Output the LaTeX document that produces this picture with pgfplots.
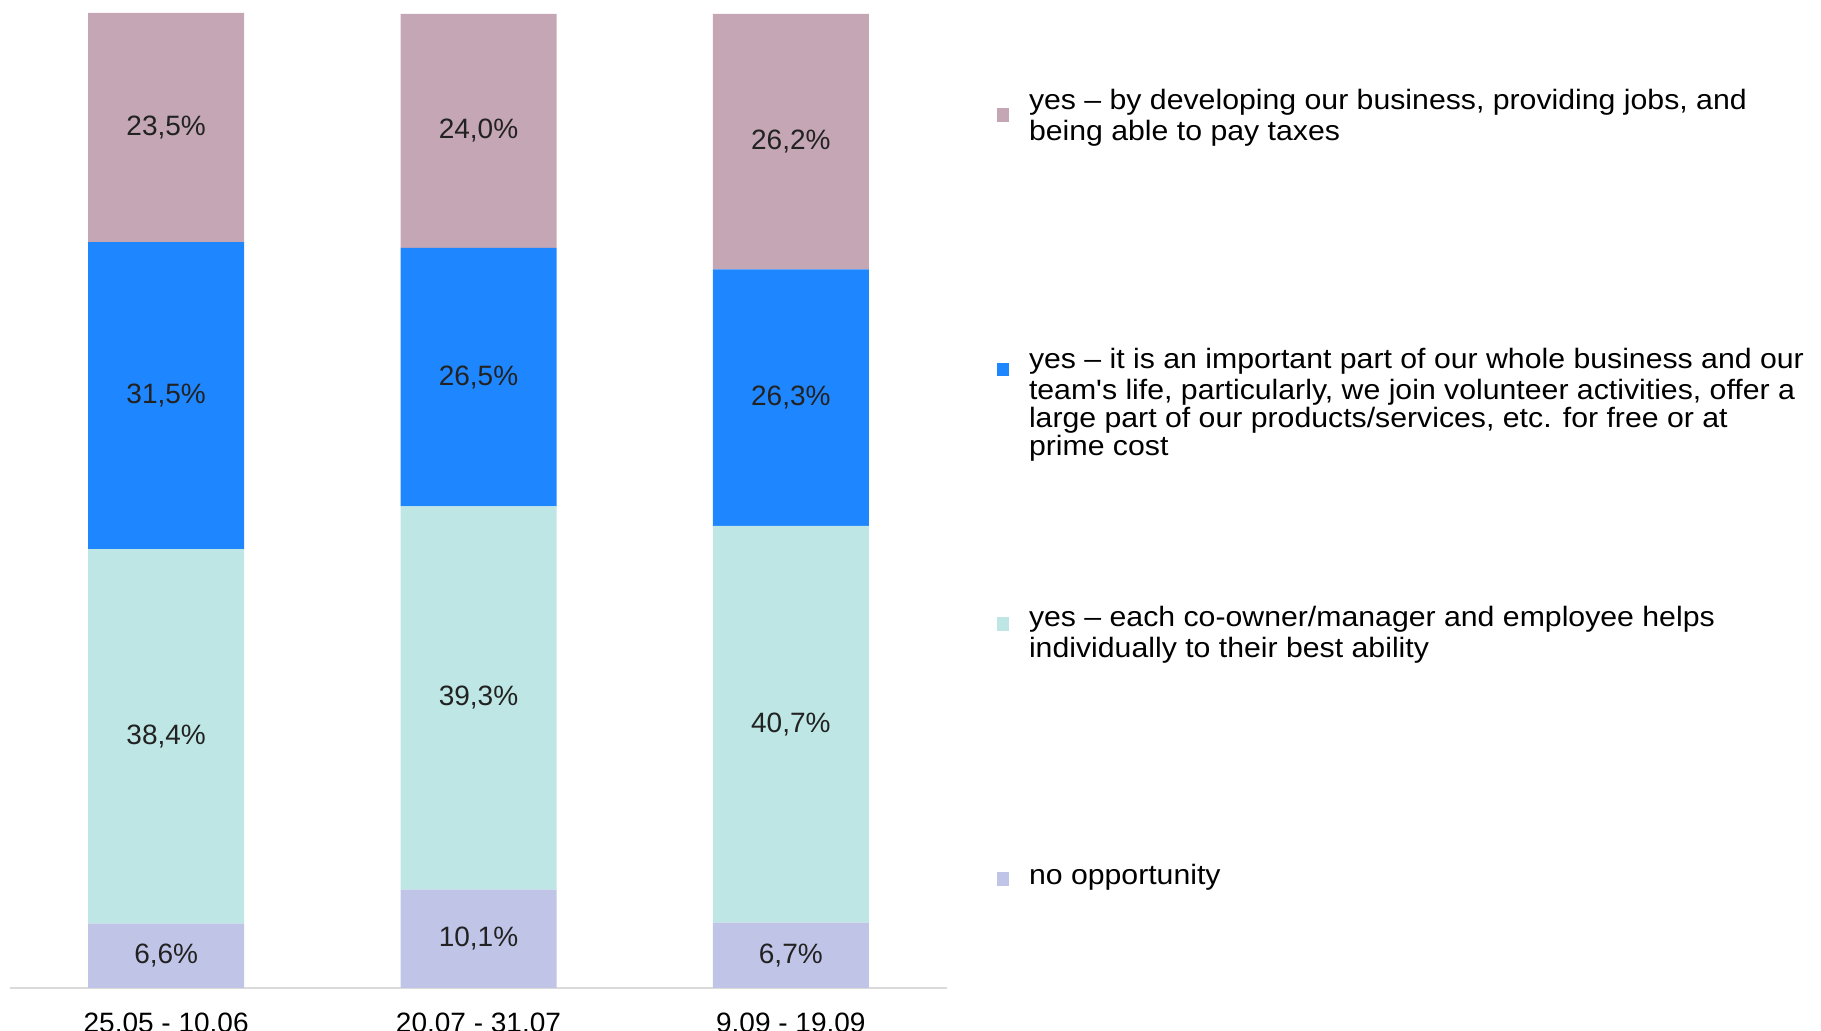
\documentclass[border=0pt]{standalone}
\usepackage{fontspec}
\setmainfont{Liberation Sans}
\newfontfamily\legendfont{Liberation Sans}[FakeStretch=1.08]
\usepackage{pgfplots}
\pgfplotsset{compat=1.18}
\definecolor{cpink}{HTML}{C4A6B4}
\definecolor{cblue}{HTML}{1E86FF}
\definecolor{cteal}{HTML}{BDE6E4}
\definecolor{clav}{HTML}{C0C5E8}
\definecolor{axisgray}{HTML}{DADADA}
\definecolor{labtext}{HTML}{222222}
\newcommand{\entry}[1]{\raisebox{0pt}[9.9pt][6pt]{\parbox[t]{460pt}{\legendfont\raggedright\strut #1}}}
\begin{document}
\fontsize{14}{14.15}\selectfont
\begin{tikzpicture}
\begin{axis}[
  scale only axis,
  width=468.5pt, height=487.5pt,
  xmin=-0.5, xmax=2.5, ymin=0, ymax=100,
  ybar stacked, bar width=78pt,
  axis x line*=bottom, axis y line=none,
  x axis line style={draw=axisgray, line width=1pt},
  xtick={0,1,2},
  xticklabels={25.05 - 10.06, 20.07 - 31.07, 9.09 - 19.09},
  major tick length=0pt,
  ytick=\empty,
  xticklabel style={inner sep=0pt, yshift=-12.5pt, text=black},
  reverse legend,
  legend style={draw=none, fill=none, inner sep=0pt, outer sep=0pt,
    row sep=113.25pt, column sep=10pt,
    nodes={anchor=base west, inner sep=0pt, outer sep=0pt, text=black},
    at={(1.05336,0.92082)}, anchor=north west},
]
\addplot[fill=clav, draw=none,
  legend image code/.code={\path[fill=none,draw=none] (0pt,-6pt) rectangle (6pt,9.9pt);
    \fill[clav] (0pt,-0.35pt) rectangle (6pt,6.45pt);}]
  coordinates {(0,6.6) (1,10.1) (2,6.7)};
\addlegendentry{\entry{no opportunity}}
\addplot[fill=cteal, draw=none,
  legend image code/.code={\path[fill=none,draw=none] (0pt,-6pt) rectangle (6pt,9.9pt);
    \fill[cteal] (0pt,-2.2pt) rectangle (6pt,4.6pt);}]
  coordinates {(0,38.4) (1,39.3) (2,40.7)};
\addlegendentry{\entry{yes – each co-owner/manager and employee helps\\individually to their best ability}}
\addplot[fill=cblue, draw=none,
  legend image code/.code={\path[fill=none,draw=none] (0pt,-6pt) rectangle (6pt,9.9pt);
    \fill[cblue] (0pt,-4.05pt) rectangle (6pt,2.75pt);}]
  coordinates {(0,31.5) (1,26.5) (2,26.3)};
\addlegendentry{\entry{yes – it is an important part of our whole business and our\\team's life, particularly, we join volunteer activities, offer a\\large part of our products/services, etc. for free or at\\prime cost}}
\addplot[fill=cpink, draw=none,
  legend image code/.code={\path[fill=none,draw=none] (0pt,-6pt) rectangle (6pt,9.9pt);
    \fill[cpink] (0pt,-5.9pt) rectangle (6pt,0.9pt);}]
  coordinates {(0,23.5) (1,24.0) (2,26.2)};
\addlegendentry{\entry{yes – by developing our business, providing jobs, and\\being able to pay taxes}}
\end{axis}
% value labels, placed at the middle of each segment
\begin{axis}[
  scale only axis,
  width=468.5pt, height=487.5pt,
  xmin=-0.5, xmax=2.5, ymin=0, ymax=100,
  hide axis,
]
\addplot[only marks, mark=none, point meta=explicit symbolic,
  nodes near coords={\pgfplotspointmeta\%},
  every node near coord/.append style={anchor=center, text=labtext, inner sep=0pt}]
  coordinates {
    (0,3.3) [6,6] (1,5.05) [10,1] (2,3.35) [6,7]
    (0,25.8) [38,4] (1,29.75) [39,3] (2,27.05) [40,7]
    (0,60.75) [31,5] (1,62.65) [26,5] (2,60.55) [26,3]
    (0,88.25) [23,5] (1,87.9) [24,0] (2,86.8) [26,2]
  };
\end{axis}
\pgfresetboundingbox
\path (-5pt,-21.5pt) rectangle (905.5pt,494pt);
\end{tikzpicture}
\end{document}
